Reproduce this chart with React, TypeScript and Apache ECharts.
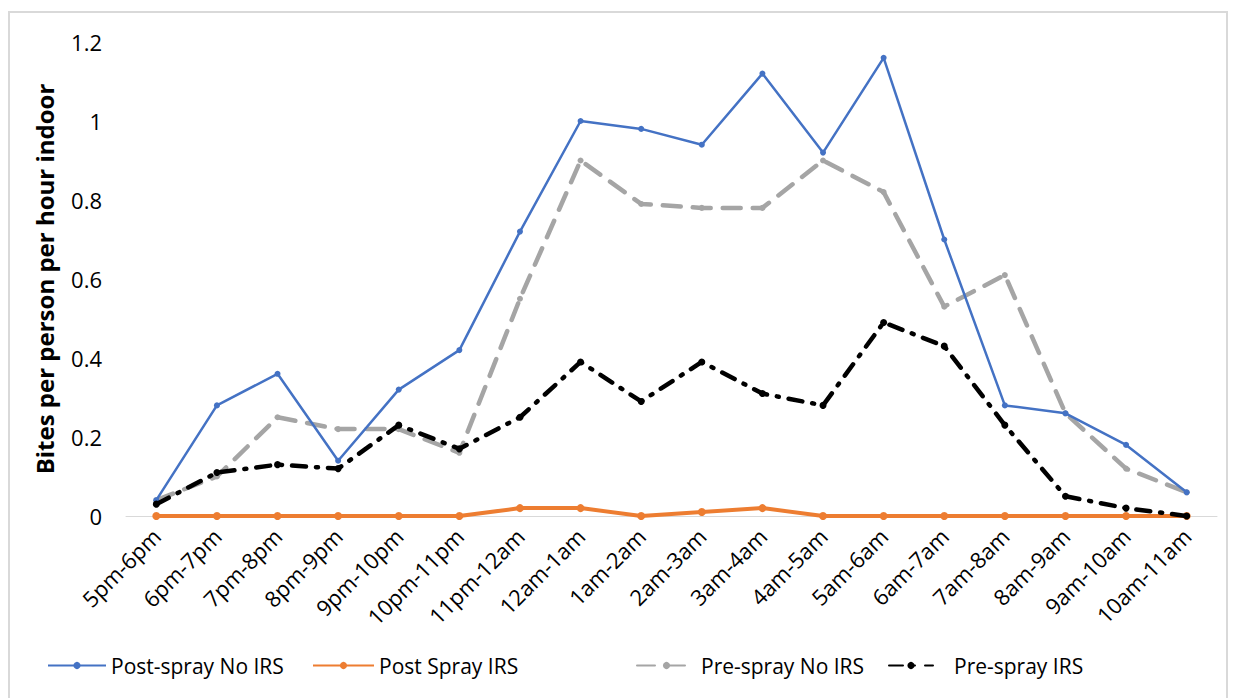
import React, { useEffect, useRef } from "react";
import * as echarts from "echarts";

const categories = [
  "5pm-6pm", "6pm-7pm", "7pm-8pm", "8pm-9pm", "9pm-10pm", "10pm-11pm",
  "11pm-12am", "12am-1am", "1am-2am", "2am-3am", "3am-4am", "4am-5am",
  "5am-6am", "6am-7am", "7am-8am", "8am-9am", "9am-10am", "10am-11am",
];

const postSprayNoIRS = [0.04, 0.28, 0.36, 0.14, 0.32, 0.42, 0.72, 1.0, 0.98, 0.94, 1.12, 0.92, 1.16, 0.7, 0.28, 0.26, 0.18, 0.06];
const postSprayIRS = [0, 0, 0, 0, 0, 0, 0.02, 0.02, 0, 0.01, 0.02, 0, 0, 0, 0, 0, 0, 0];
const preSprayNoIRS = [0.04, 0.1, 0.25, 0.22, 0.22, 0.16, 0.55, 0.9, 0.79, 0.78, 0.78, 0.9, 0.82, 0.53, 0.61, 0.26, 0.12, 0.06];
const preSprayIRS = [0.03, 0.11, 0.13, 0.12, 0.23, 0.17, 0.25, 0.39, 0.29, 0.39, 0.31, 0.28, 0.49, 0.43, 0.23, 0.05, 0.02, 0];

const seriesNames = ["Post-spray No IRS", "Post Spray IRS", "Pre-spray No IRS", "Pre-spray IRS"];

const FONT = "'Open Sans', Lato, sans-serif";

const legendLeft = [34, 299, 623, 875];
const legendIconWidth = [58, 61, 59, 44];
const legendTextPad = [0, 0, 0, 16];

export default function App() {
  const ref = useRef<HTMLDivElement>(null);
  useEffect(() => {
    if (!ref.current) return;
    const chart = echarts.init(ref.current, undefined, { renderer: "svg" });
    chart.setOption({
      animation: false,
      backgroundColor: "#fff",
      textStyle: { fontFamily: FONT },
      graphic: [
        {
          type: "rect",
          shape: { x: 1, y: 4, width: 1218, height: 700 },
          style: { fill: "none", stroke: "#d9d9d9", lineWidth: 2 },
          silent: true,
        },
      ],
      grid: { left: 118, right: 11, top: 34, bottom: 182, containLabel: false },
      legend: seriesNames.map((n, i) => ({
        top: 642,
        left: legendLeft[i],
        itemWidth: legendIconWidth[i],
        itemHeight: 9,
        textStyle: { fontSize: 21, color: "#000", fontFamily: FONT, padding: [0, 0, 0, legendTextPad[i]] },
        data: [n],
      })),
      xAxis: {
        type: "category",
        data: categories,
        boundaryGap: true,
        axisLine: { lineStyle: { color: "#d9d9d9", width: 1 } },
        axisTick: { show: false },
        axisLabel: { rotate: 45, fontSize: 22, color: "#000", margin: 16, interval: 0, fontFamily: FONT },
      },
      yAxis: {
        type: "value",
        min: 0,
        max: 1.2,
        interval: 0.2,
        name: "Bites per person per hour indoor",
        nameLocation: "middle",
        nameGap: 70,
        nameRotate: 90,
        nameTextStyle: { fontSize: 24, fontWeight: "bold", color: "#000", fontFamily: FONT },
        splitLine: { show: false },
        axisLine: { show: false },
        axisTick: { show: false },
        axisLabel: { fontSize: 22, color: "#000", margin: 24, fontFamily: FONT },
      },
      series: [
        {
          name: seriesNames[0],
          type: "line",
          data: postSprayNoIRS,
          color: "#4472C4",
          symbol: "circle",
          symbolSize: 6,
          lineStyle: { width: 2.5, color: "#4472C4" },
          itemStyle: { color: "#4472C4" },
          z: 4,
        },
        {
          name: seriesNames[1],
          type: "line",
          data: postSprayIRS,
          color: "#ED7D31",
          symbol: "circle",
          symbolSize: 8,
          lineStyle: { width: 4, color: "#ED7D31" },
          itemStyle: { color: "#ED7D31" },
          z: 3,
        },
        {
          name: seriesNames[2],
          type: "line",
          data: preSprayNoIRS,
          color: "#A5A5A5",
          symbol: "circle",
          symbolSize: 6,
          lineStyle: { width: 4.5, color: "#A5A5A5", type: [18, 12], cap: "round" },
          itemStyle: { color: "#A5A5A5" },
          z: 2,
        },
        {
          name: seriesNames[3],
          type: "line",
          data: preSprayIRS,
          color: "#000",
          symbol: "circle",
          symbolSize: 7,
          lineStyle: { width: 4.5, color: "#000", type: [14, 10, 2, 10], cap: "round" },
          itemStyle: { color: "#000" },
          z: 5,
        },
      ],
    });
    return () => chart.dispose();
  }, []);
  return <div ref={ref} style={{ width: 1220, height: 690 }} />;
}
